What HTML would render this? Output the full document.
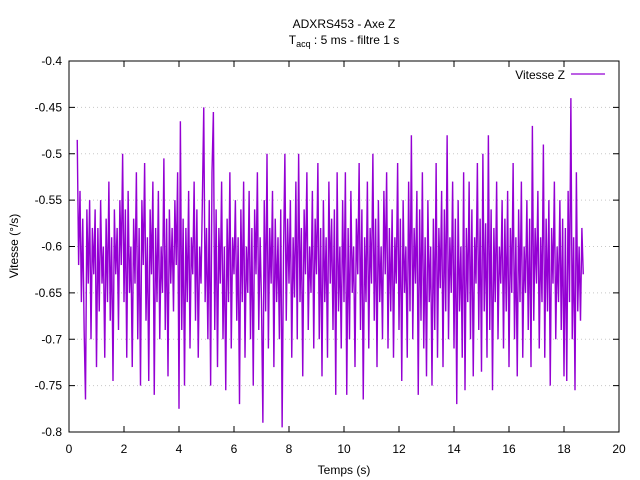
<!DOCTYPE html>
<html><head><meta charset="utf-8">
<style>
body{margin:0;background:#fff;}
svg{display:block;font-family:"Liberation Sans","DejaVu Sans",sans-serif;}
</style></head>
<body>
<svg id="chart" width="640" height="480" viewBox="0 0 640 480" xmlns="http://www.w3.org/2000/svg">
<g font-size="12" text-anchor="middle" fill="#000">
<text x="344" y="28">ADXRS453 - Axe Z</text>
<text x="344" y="44">T<tspan font-size="9" dy="3">acq</tspan><tspan dy="-3"> : 5 ms - filtre 1 s</tspan></text>
</g>
<g id="grid"></g>
<g id="series"></g>
<rect x="69" y="61" width="550" height="371" fill="none" stroke="#000" stroke-width="1"/>
<g id="axes" font-size="12" fill="#000"></g>
<text x="344" y="474" font-size="12" text-anchor="middle">Temps (s)</text>
<text x="18" y="246" font-size="12" text-anchor="middle" transform="rotate(-90 18 246)">Vitesse (°/s)</text>
<g>
<text x="565" y="79" font-size="12" text-anchor="end">Vitesse Z</text>
<line x1="571" y1="74" x2="605" y2="74" stroke="#9400d3" stroke-width="1.2"/>
</g>
</svg>
<script>
const xTicks=[0,2,4,6,8,10,12,14,16,18,20];
const yTicks=[-0.8,-0.75,-0.7,-0.65,-0.6,-0.55,-0.5,-0.45,-0.4];
const yTickLabels=["-0.8","-0.75","-0.7","-0.65","-0.6","-0.55","-0.5","-0.45","-0.4"];
const tStart=0.3, tStep=0.05;
const speedZ=[
-0.485,-0.62,-0.54,-0.66,-0.57,-0.69,-0.765,-0.56,-0.64,-0.55,-0.70,-0.58,-0.63,-0.56,
-0.73,-0.58,-0.67,-0.55,-0.64,-0.60,-0.72,-0.57,-0.66,-0.53,-0.68,-0.59,-0.745,-0.56,-0.63,-0.58,-0.69,-0.55,-0.62,-0.50,
-0.66,-0.56,-0.72,-0.54,-0.65,-0.60,-0.73,-0.57,-0.64,-0.52,-0.70,-0.58,-0.75,-0.55,-0.62,-0.51,-0.68,-0.59,-0.745,-0.56,
-0.63,-0.53,-0.76,-0.58,-0.66,-0.54,-0.70,-0.60,-0.65,-0.505,-0.69,-0.57,-0.74,-0.56,-0.64,-0.58,-0.67,-0.55,-0.62,-0.52,
-0.775,-0.465,-0.69,-0.57,-0.75,-0.58,-0.66,-0.54,-0.71,-0.59,-0.63,-0.53,-0.68,-0.56,-0.72,-0.60,-0.64,-0.55,-0.45,-0.66,
-0.58,-0.70,-0.55,-0.75,-0.52,-0.455,-0.69,-0.56,-0.73,-0.58,-0.64,-0.53,-0.70,-0.60,-0.755,-0.57,-0.66,-0.52,-0.71,-0.59,
-0.63,-0.55,-0.68,-0.59,-0.77,-0.56,-0.66,-0.53,-0.72,-0.60,-0.65,-0.54,-0.70,-0.58,-0.75,-0.56,-0.63,-0.52,-0.69,-0.59,
-0.66,-0.79,-0.55,-0.67,-0.50,-0.71,-0.58,-0.64,-0.54,-0.73,-0.57,-0.66,-0.59,-0.70,-0.56,-0.795,-0.61,-0.50,-0.68,-0.57,
-0.64,-0.55,-0.72,-0.59,-0.655,-0.53,-0.70,-0.50,-0.66,-0.58,-0.74,-0.56,-0.63,-0.52,-0.69,-0.60,-0.65,-0.54,-0.71,-0.57,
-0.63,-0.51,-0.70,-0.58,-0.74,-0.55,-0.66,-0.59,-0.72,-0.53,-0.64,-0.57,-0.69,-0.56,-0.76,-0.52,-0.67,-0.60,-0.71,-0.55,
-0.66,-0.52,-0.76,-0.58,-0.70,-0.54,-0.65,-0.60,-0.73,-0.57,-0.63,-0.51,-0.69,-0.56,-0.765,-0.59,-0.66,-0.53,-0.71,-0.58,
-0.64,-0.50,-0.68,-0.57,-0.73,-0.55,-0.66,-0.60,-0.70,-0.54,-0.63,-0.52,-0.71,-0.58,-0.67,-0.56,-0.72,-0.59,-0.64,-0.51,
-0.69,-0.57,-0.745,-0.55,-0.65,-0.60,-0.72,-0.53,-0.67,-0.48,-0.70,-0.58,-0.64,-0.54,-0.76,-0.56,-0.68,-0.52,-0.71,-0.59,
-0.74,-0.55,-0.66,-0.60,-0.75,-0.57,-0.69,-0.51,-0.72,-0.58,-0.645,-0.54,-0.73,-0.56,-0.67,-0.48,-0.70,-0.59,-0.65,-0.53,
-0.71,-0.57,-0.77,-0.55,-0.67,-0.60,-0.72,-0.52,-0.755,-0.58,-0.66,-0.53,-0.70,-0.56,-0.74,-0.59,-0.64,-0.51,-0.69,-0.57,
-0.735,-0.50,-0.67,-0.575,-0.72,-0.48,-0.69,-0.56,-0.755,-0.58,-0.66,-0.53,-0.70,-0.60,-0.64,-0.55,-0.71,-0.57,-0.67,-0.54,
-0.73,-0.58,-0.65,-0.51,-0.70,-0.59,-0.74,-0.56,-0.66,-0.53,-0.72,-0.60,-0.65,-0.55,-0.69,-0.57,-0.73,-0.47,-0.68,-0.58,
-0.64,-0.54,-0.71,-0.59,-0.66,-0.49,-0.72,-0.57,-0.67,-0.55,-0.75,-0.58,-0.64,-0.53,-0.70,-0.60,-0.66,-0.55,-0.69,-0.57,
-0.74,-0.58,-0.745,-0.54,-0.66,-0.44,-0.70,-0.59,-0.755,-0.52,-0.67,-0.60,-0.68,-0.58,-0.63
];
const X0=69,X1=619,Y0=432,Y1=61;
const xMin=0,xMax=20,yMin=-0.8,yMax=-0.4;
function sx(v){return X0+(v-xMin)/(xMax-xMin)*(X1-X0);}
function sy(v){return Y0-(v-yMin)/(yMax-yMin)*(Y0-Y1);}
const NS="http://www.w3.org/2000/svg";
function mk(tag,attrs,parent){const e=document.createElementNS(NS,tag);for(const k in attrs)e.setAttribute(k,attrs[k]);parent.appendChild(e);return e;}
const grid=document.getElementById('grid'),axes=document.getElementById('axes'),series=document.getElementById('series');
yTicks.forEach((v,i)=>{
  const y=sy(v);
  if(i>0&&i<yTicks.length-1){
    const g=mk('line',{x1:X0,x2:X1,y1:y,y2:y,stroke:'#c8c8c8','stroke-width':1,'stroke-dasharray':'1,3'},grid);
    
    
  }
  const t1=mk('line',{x1:X0,x2:X0+6,y1:y,y2:y,stroke:'#000'},axes);
  
  
  const t2=mk('line',{x1:X1-6,x2:X1,y1:y,y2:y,stroke:'#000'},axes);
  
  
  const tx=mk('text',{x:X0-7,y:y+4,'text-anchor':'end'},axes);
  tx.textContent=yTickLabels[i];
  
  
});
xTicks.forEach(v=>{
  const x=sx(v);
  const t1=mk('line',{x1:x,x2:x,y1:Y0,y2:Y0-6,stroke:'#000'},axes);
  
  
  const t2=mk('line',{x1:x,x2:x,y1:Y1,y2:Y1+6,stroke:'#000'},axes);
  
  
  const tx=mk('text',{x:x,y:Y0+21,'text-anchor':'middle'},axes);
  tx.textContent=String(v);
  
  
});
const pts=speedZ.map((v,i)=>sx(tStart+i*tStep).toFixed(2)+','+sy(v).toFixed(2)).join(' ');
const line=mk('polyline',{points:pts,fill:'none',stroke:'#9400d3','stroke-width':1.4,'stroke-linejoin':'miter'},series);


</script>
</body></html>
